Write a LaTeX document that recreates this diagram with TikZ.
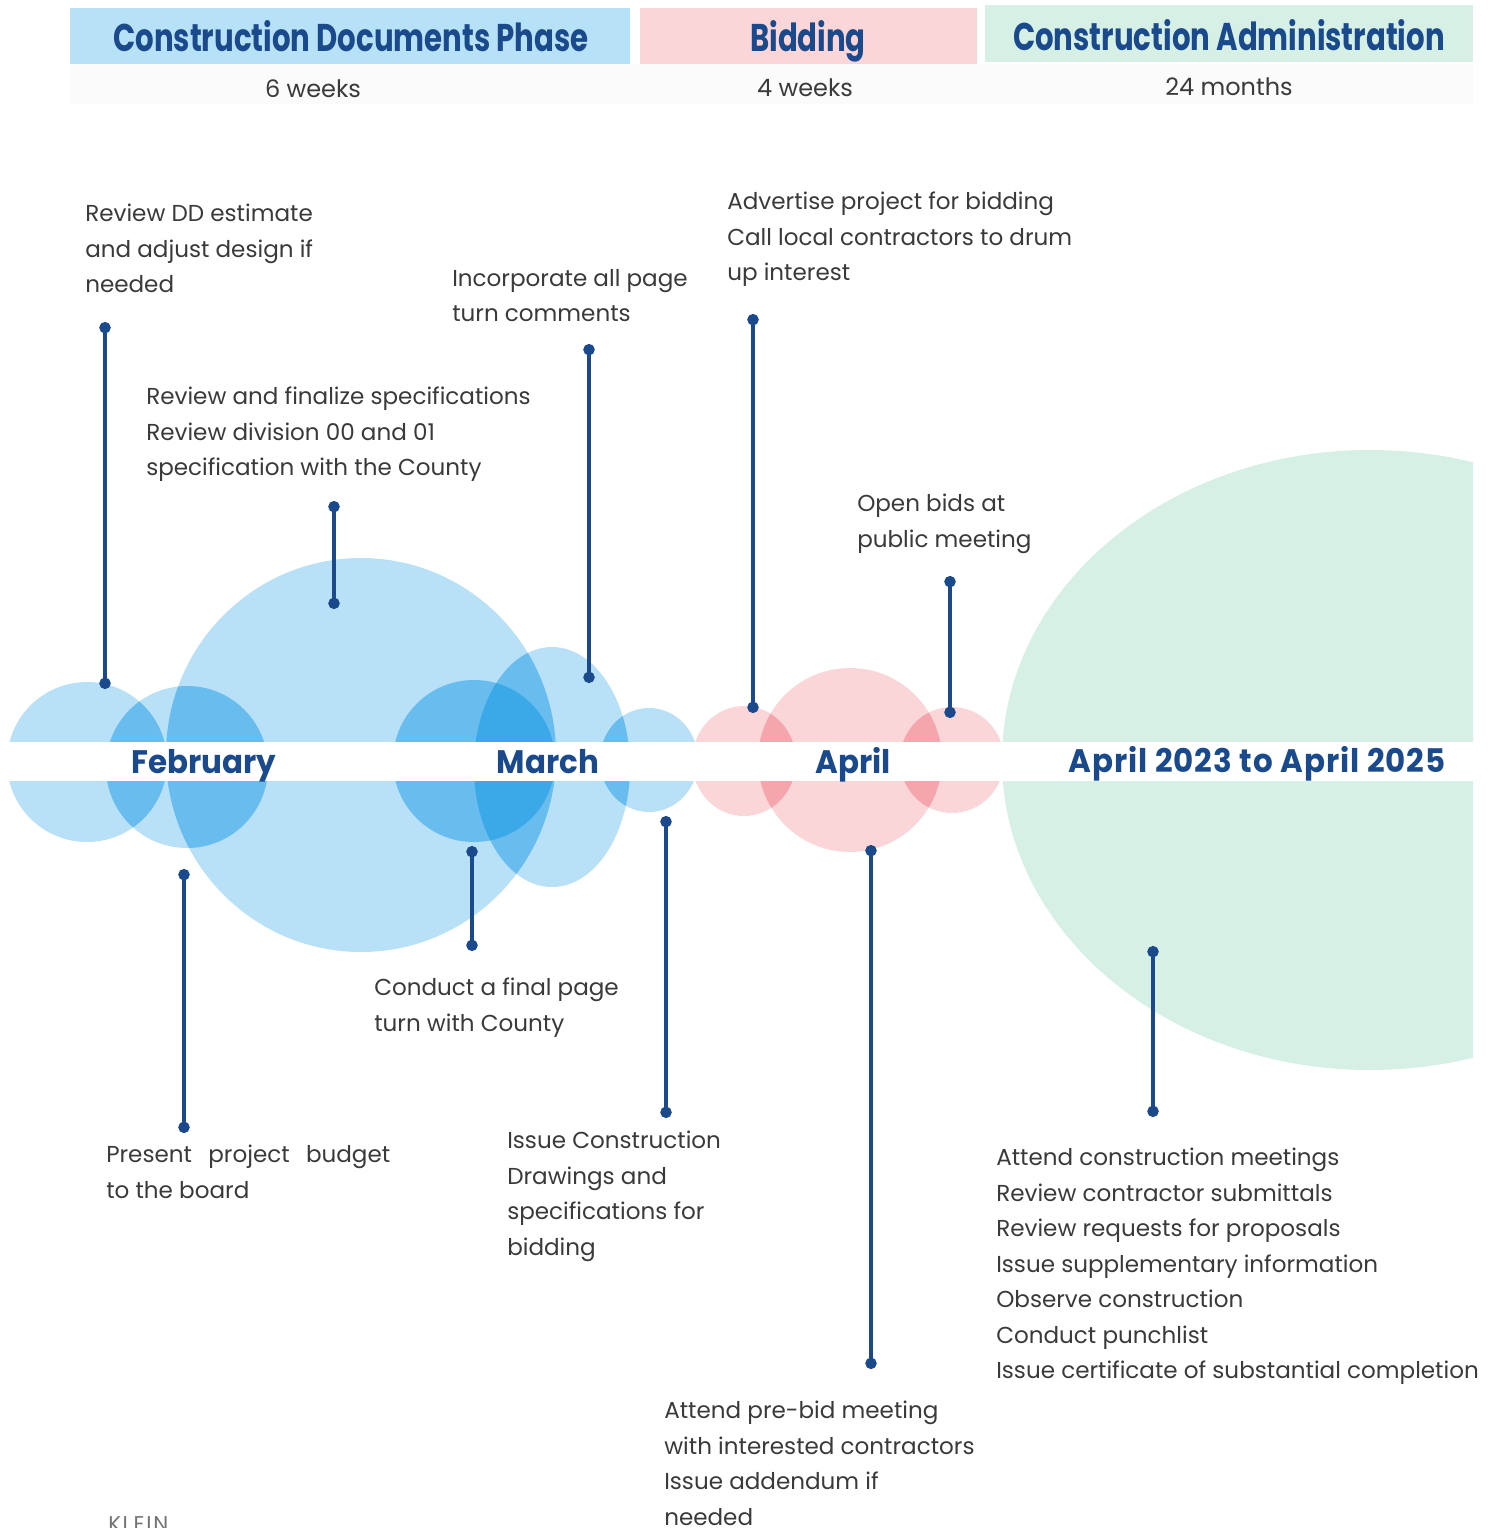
\documentclass[tikz,border=0pt]{standalone}
\usepackage{fontspec}
\setmainfont{Poppins}
\newfontfamily\headfont[FakeStretch=0.755]{Poppins}
\newfontfamily\monthfont[FakeStretch=0.95]{Poppins}
\usetikzlibrary{arrows.meta}
\definecolor{hdrblue}{RGB}{183,225,246}
\definecolor{hdrpink}{RGB}{250,214,216}
\definecolor{hdrgreen}{RGB}{214,240,229}
\definecolor{navy}{RGB}{26,74,140}
\definecolor{txtgray}{RGB}{58,58,58}
\definecolor{bubblue}{RGB}{40,160,230}
\definecolor{bubpink}{RGB}{240,120,130}

\begin{document}
\begin{tikzpicture}[x=0.75pt,y=0.75pt,yscale=-1,xscale=1,
  txt/.style={anchor=north west,inner sep=0.75pt,align=left,text=txtgray,font=\fontsize{17.3}{26.6}\selectfont},
  sub/.style={anchor=base,inner sep=0.75pt,text=txtgray,font=\fontsize{18}{20}\selectfont},
  head/.style={anchor=base,inner sep=0.75pt,text=navy,font=\headfont\bfseries\fontsize{29}{32}\selectfont},
  month/.style={anchor=base,inner sep=0.75pt,text=navy,font=\monthfont\bfseries\fontsize{24.4}{28}\selectfont},
  bb/.style={fill=bubblue,fill opacity=0.33},
  pb/.style={fill=bubpink,fill opacity=0.3},
  conn/.style={draw=navy,line width=2.3pt,{Circle[length=8.5pt,width=8.5pt]}-{Circle[length=8.5pt,width=8.5pt]}}]
\useasboundingbox (0,0) rectangle (1489,1528);

%Shape: Rectangle (phase bars)
\fill [black!1.5] (70,64) rectangle (1473,104) ;
\fill [hdrblue] (70,8) rectangle (630,64) ;
\fill [hdrpink] (640,8) rectangle (977,64) ;
\fill [hdrgreen] (985,5) rectangle (1473,62) ;

% Text Node
\draw (351,51) node (cdp) [head] {Construction Documents Phase};
% Text Node
\draw (808,51) node (bid) [head] {Bidding};
% Text Node
\draw (1229,50) node (cad) [head] {Construction Administration};
% Text Node
\draw (313,97) node (cdpdur) [sub] {6 weeks};
% Text Node
\draw (805,96) node (biddur) [sub] {4 weeks};
% Text Node
\draw (1229,95) node (caddur) [sub] {24 months};

%Shape: Ellipse (construction administration)
\begin{scope}
\clip (0,0) rectangle (1473,1528) ;
\fill [hdrgreen] (1370,760) ellipse (368 and 310) ;
\end{scope}

%Shape: Circle (documents phase)
\fill [bb] (87,762) circle (80) ;
\fill [bb] (187,767) circle (81) ;
\fill [bb] (361,755) ellipse (195 and 197) ;
\fill [bb] (474,761) circle (81) ;
\fill [bb] (552,767) ellipse (78 and 120) ;
\fill [bb] (649,760) ellipse (49 and 52) ;
%Shape: Circle (bidding)
\fill [pb] (744,761) ellipse (52 and 55) ;
\fill [pb] (850,760) circle (92) ;
\fill [pb] (952,760) ellipse (52 and 53) ;

%overlaps, a bit deeper
\begin{scope} \clip (87,762) circle (80) ; \fill [bb] (187,767) circle (81) ; \end{scope}
\begin{scope} \clip (361,755) ellipse (195 and 197) ; \fill [bb] (187,767) circle (81) ; \end{scope}
\begin{scope} \clip (361,755) ellipse (195 and 197) ; \fill [bb] (474,761) circle (81) ; \end{scope}
\begin{scope} \clip (361,755) ellipse (195 and 197) ; \fill [bb] (552,767) ellipse (78 and 120) ; \end{scope}
\begin{scope} \clip (474,761) circle (81) ; \fill [bb] (552,767) ellipse (78 and 120) ; \end{scope}
\begin{scope} \clip (649,760) ellipse (49 and 52) ; \fill [bb] (552,767) ellipse (78 and 120) ; \end{scope}
\begin{scope} \clip (850,760) circle (92) ; \fill [pb] (744,761) ellipse (52 and 55) ; \end{scope}
\begin{scope} \clip (850,760) circle (92) ; \fill [pb] (952,760) ellipse (52 and 53) ; \end{scope}

%Shape: Rectangle (white band)
\fill [white] (0,742) rectangle (1489,781) ;

% Text Node
\draw (204,773) node (feb) [month] {February};
% Text Node
\draw (548,773) node (mar) [month] {March};
% Text Node
\draw (853,773) node (apr) [month] {April};
% Text Node
\draw (1257,772) node (apr2) [month] {\addfontfeature{LetterSpace=3}April 2023 to April 2025};

%Straight Lines (connectors)
\coordinate (ddtop) at (105,322) ; \coordinate (ddbot) at (105,689) ;
\coordinate (spectop) at (334,501) ; \coordinate (specbot) at (334,609) ;
\coordinate (inctop) at (589,344) ; \coordinate (incbot) at (589,683) ;
\coordinate (advtop) at (753,314) ; \coordinate (advbot) at (753,713) ;
\coordinate (opentop) at (950,576) ; \coordinate (openbot) at (950,718) ;
\coordinate (budtop) at (184,869) ; \coordinate (budbot) at (184,1133) ;
\coordinate (turntop) at (472,846) ; \coordinate (turnbot) at (472,951) ;
\coordinate (issuetop) at (666,816) ; \coordinate (issuebot) at (666,1118) ;
\coordinate (pretop) at (871,845) ; \coordinate (prebot) at (871,1369) ;
\coordinate (catop) at (1153,946) ; \coordinate (cabot) at (1153,1117) ;
\draw [conn] (ddtop) -- (ddbot) ;
\draw [conn] (spectop) -- (specbot) ;
\draw [conn] (inctop) -- (incbot) ;
\draw [conn] (advtop) -- (advbot) ;
\draw [conn] (opentop) -- (openbot) ;
\draw [conn] (budtop) -- (budbot) ;
\draw [conn] (turntop) -- (turnbot) ;
\draw [conn] (issuetop) -- (issuebot) ;
\draw [conn] (pretop) -- (prebot) ;
\draw [conn] (catop) -- (cabot) ;

% Text Node
\draw (84,203) node (ddtxt) [txt] {Review DD estimate\\and adjust design if\\needed};
% Text Node
\draw (145,386) node (spectxt) [txt] {Review and finalize specifications\\Review division 00 and 01\\specification with the County};
% Text Node
\draw (451,268) node (inctxt) [txt] {Incorporate all page\\turn comments};
% Text Node
\draw (726,191) node (advtxt) [txt] {Advertise project for bidding\\Call local contractors to drum\\up interest};
% Text Node
\draw (856,493) node (opentxt) [txt] {Open bids at\\public meeting};
% Text Node
\draw (373,977) node (turntxt) [txt] {Conduct a final page\\turn with County};
% Text Node
\draw (105,1144) node (budtxt) [txt] {\makebox[213pt][s]{Present project budget}\\to the board};
% Text Node
\draw (506,1130) node (issuetxt) [txt] {Issue Construction\\Drawings and\\specifications for\\bidding};
% Text Node
\draw (663,1400) node (pretxt) [txt] {Attend pre-bid meeting\\with interested contractors\\Issue addendum if\\needed};
% Text Node
\draw (995,1147) node (catxt) [txt] {Attend construction meetings\\Review contractor submittals\\Review requests for proposals\\Issue supplementary information\\Observe construction\\Conduct punchlist\\Issue certificate of substantial completion};
% Text Node
\draw (107,1515) node (logo) [anchor=north west,inner sep=0.75pt,text=black!55,font=\fontsize{16}{18}\selectfont\addfontfeature{LetterSpace=8}] {KLEIN};

\end{tikzpicture}
\end{document}
